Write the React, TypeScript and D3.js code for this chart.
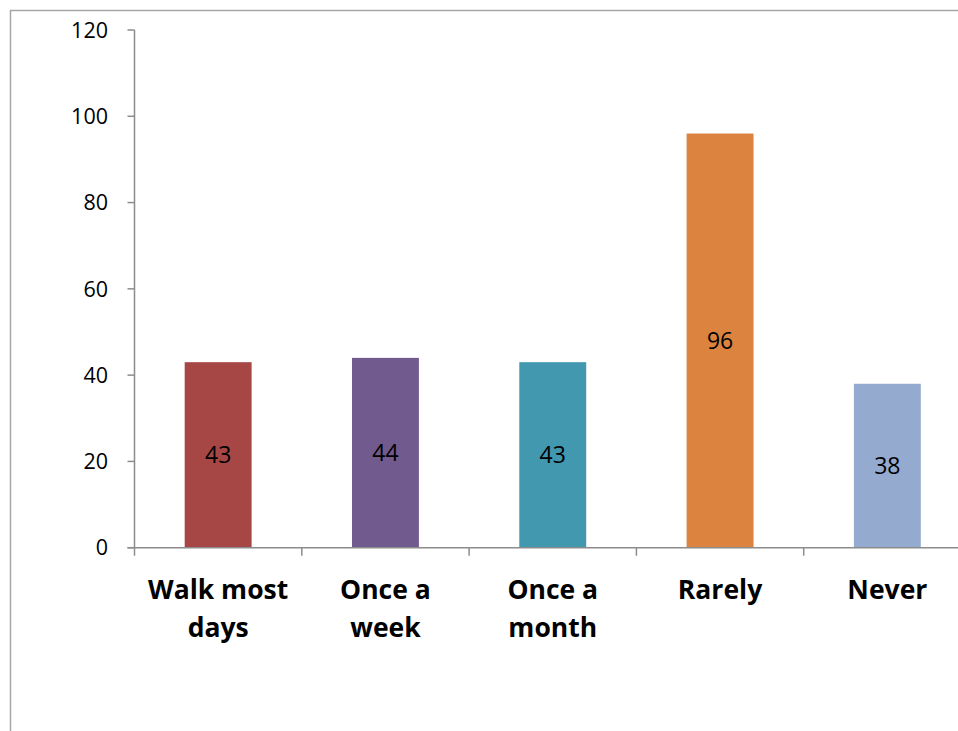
import React from "react";
import * as d3 from "d3";

const categories: string[][] = [
  ["Walk most", "days"],
  ["Once a", "week"],
  ["Once a", "month"],
  ["Rarely"],
  ["Never"],
];
const values: number[] = [43, 44, 43, 96, 38];
const colors: string[] = ["#A64745", "#715A8E", "#4298AF", "#DB833F", "#95AACF"];
const yTicks: number[] = [0, 20, 40, 60, 80, 100, 120];

const W = 958;
const H = 731;
const FONT = "'Open Sans', Lato, sans-serif";

export default function App() {
  const x0 = 134.5;
  const band = 167.3;
  const x = d3
    .scaleBand<number>()
    .domain(d3.range(categories.length))
    .range([x0, x0 + band * categories.length])
    .paddingInner(0.6)
    .paddingOuter(0.3);
  const y = d3.scaleLinear().domain([0, 120]).range([547.7, 30]);
  const axisColor = "#8c8c8c";
  return (
    <svg
      width={W}
      height={H}
      style={{ position: "absolute", left: 0, top: 0, background: "#fff" }}
    >
      <rect x={10.5} y={10.5} width={1200} height={1200} fill="#fff" stroke="#a6a6a6" strokeWidth={1.5} />
      {values.map((v, i) => (
        <rect
          key={"b" + i}
          x={x(i)}
          y={y(v)}
          width={x.bandwidth()}
          height={y(0) - y(v)}
          fill={colors[i]}
        />
      ))}
      {values.map((v, i) => (
        <text
          key={"l" + i}
          x={(x(i) as number) + x.bandwidth() / 2}
          y={(y(v) + y(0)) / 2}
          dy="0.36em"
          textAnchor="middle"
          fontFamily={FONT}
          fontSize={23}
          fill="#000"
        >
          {v}
        </text>
      ))}
      {/* y axis */}
      <line x1={x0} x2={x0} y1={y(120)} y2={y(0)} stroke={axisColor} strokeWidth={1.5} />
      {yTicks.map((t) => (
        <g key={"t" + t}>
          <line x1={x0 - 7} x2={x0} y1={y(t)} y2={y(t)} stroke={axisColor} strokeWidth={1.5} />
          <text
            x={108}
            y={y(t)}
            dy="0.36em"
            textAnchor="end"
            fontFamily={FONT}
            fontSize={21.5}
            fill="#000"
          >
            {t}
          </text>
        </g>
      ))}
      {/* x axis */}
      <line x1={x0 - 7} x2={x0 + band * categories.length} y1={y(0)} y2={y(0)} stroke={axisColor} strokeWidth={1.5} />
      {d3.range(categories.length + 1).map((i) => (
        <line
          key={"xt" + i}
          x1={x0 + band * i}
          x2={x0 + band * i}
          y1={y(0)}
          y2={y(0) + 8}
          stroke={axisColor}
          strokeWidth={1.5}
        />
      ))}
      {categories.map((lines, i) => (
        <text
          key={"c" + i}
          x={(x(i) as number) + x.bandwidth() / 2}
          textAnchor="middle"
          fontFamily={FONT}
          fontWeight="bold"
          fontSize={26.5}
          fill="#000"
        >
          {lines.map((ln, j) => (
            <tspan key={j} x={(x(i) as number) + x.bandwidth() / 2} y={599 + j * 38}>
              {ln}
            </tspan>
          ))}
        </text>
      ))}
    </svg>
  );
}
